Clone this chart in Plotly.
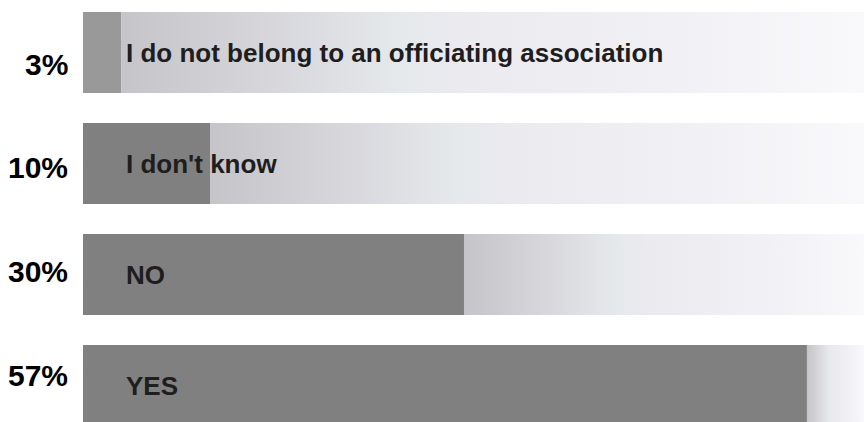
import plotly.graph_objects as go

# Survey answers, top to bottom
categories = [
    "I do not belong to an officiating association",
    "I don't know",
    "NO",
    "YES",
]
percentages = [3, 10, 30, 57]
bar_colors = ["#999999", "#808080", "#808080", "#808080"]

# Layout constants
W, H = 864, 422
LEFT = 83
X_MAX = 61.5            # right end of the background tracks (axis units, %)
BAR_W = 0.73            # bar thickness in row units
ROW_PX = 111            # pixel pitch between rows
FIRST_CENTER_PX = 52.5  # pixel centre of the first row
PCT_LABEL_PX = [64.2, 167.8, 271.4, 375.0]  # vertical centres of the % labels
PCT_RIGHT_PX = 70       # right edge of the % labels

track_scale = [
    [0.00, "#c4c4c9"],
    [0.20, "#d6d6db"],
    [0.38, "#e6e9ec"],
    [0.46, "#eaeaef"],
    [0.75, "#f1f1f5"],
    [1.00, "#f9f9fc"],
]

fig = go.Figure()

rows = list(range(len(categories)))

# Gradient tracks from the end of each bar to the right edge
for i, v in zip(rows, percentages):
    y0, y1 = i - BAR_W / 2, i + BAR_W / 2
    fig.add_trace(go.Scatter(
        x=[v, X_MAX, X_MAX, v, v],
        y=[y0, y0, y1, y1, y0],
        mode="lines",
        line=dict(width=0),
        fill="toself",
        fillgradient=dict(type="horizontal", colorscale=track_scale,
                          start=v, stop=X_MAX),
        hoverinfo="skip",
        showlegend=False,
    ))

# Value bars
fig.add_trace(go.Bar(
    x=percentages,
    y=rows,
    orientation="h",
    width=BAR_W,
    marker=dict(color=bar_colors, line=dict(width=0)),
    hovertemplate="%{x}%<extra></extra>",
    showlegend=False,
))

annotations = []
for i, (cat, v) in enumerate(zip(categories, percentages)):
    # answer label inside the track
    annotations.append(dict(
        x=0, xref="x", xanchor="left", xshift=41,
        y=i, yref="y", yanchor="middle", yshift=0,
        text=f"<b>{cat}</b>", showarrow=False,
        font=dict(family="Liberation Sans, Arial, sans-serif", size=26, color="#1e1e1e"),
    ))
    # percentage to the left of the track
    annotations.append(dict(
        x=(PCT_RIGHT_PX - LEFT) / (W - LEFT), xref="paper", xanchor="right",
        y=1 - PCT_LABEL_PX[i] / H, yref="paper", yanchor="middle",
        text=f"<b>{v}%</b>", showarrow=False,
        font=dict(family="Liberation Sans, Arial, sans-serif", size=30, color="#000000"),
    ))

y_top = -FIRST_CENTER_PX / ROW_PX
y_bottom = (H - FIRST_CENTER_PX) / ROW_PX

fig.update_layout(
    width=W, height=H,
    margin=dict(l=LEFT, r=0, t=0, b=0),
    paper_bgcolor="white", plot_bgcolor="white",
    xaxis=dict(range=[0, X_MAX], visible=False, fixedrange=True),
    yaxis=dict(range=[y_bottom, y_top], visible=False, fixedrange=True),
    annotations=annotations,
    bargap=0,
)

fig.write_html("out.html", config={"displayModeBar": False})
